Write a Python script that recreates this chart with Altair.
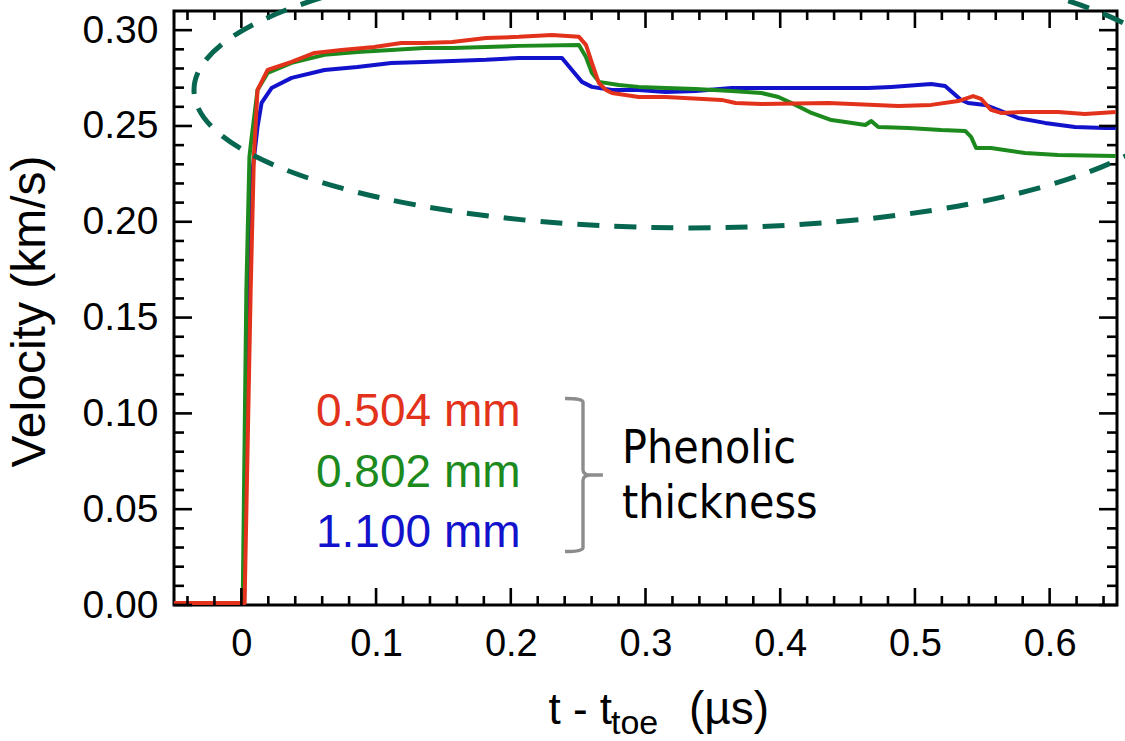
import altair as alt
import pandas as pd

# ---- data: time (us) and velocity (km/s) ----
t_504 = [-0.050, 0.0024, 0.0069, 0.0093, 0.010, 0.012, 0.0195, 0.0373, 0.0543, 0.0743,
         0.0987, 0.1187, 0.1358, 0.1565, 0.1817, 0.2061, 0.2306, 0.2506, 0.2558, 0.2602,
         0.2654, 0.2706, 0.2751, 0.2950, 0.3150, 0.3565, 0.3668, 0.3861, 0.4358, 0.4876,
         0.5121, 0.5321, 0.5432, 0.5491, 0.5565, 0.5639, 0.5817, 0.6062, 0.6261, 0.6491]
v_504 = [0.001, 0.001, 0.164, 0.234, 0.2427, 0.2688, 0.2792, 0.2834, 0.2881, 0.2897,
         0.2912, 0.2933, 0.2933, 0.2938, 0.2959, 0.2965, 0.2975, 0.2965, 0.2923, 0.2829,
         0.2724, 0.2688, 0.2672, 0.2651, 0.2651, 0.2636, 0.2620, 0.2615, 0.2620, 0.2604,
         0.2610, 0.2630, 0.2656, 0.2641, 0.2584, 0.2568, 0.2573, 0.2573, 0.2563, 0.2573]

t_802 = [-0.050, 0.001, 0.0037, 0.006, 0.0074, 0.012, 0.0195, 0.0373, 0.0617, 0.0861,
         0.1113, 0.1358, 0.1565, 0.1817, 0.2061, 0.2506, 0.2558, 0.2602, 0.2654, 0.2802,
         0.2950, 0.3150, 0.3373, 0.3639, 0.3861, 0.3987, 0.4113, 0.4232, 0.4380, 0.4484,
         0.4632, 0.4676, 0.4728, 0.4950, 0.5195, 0.5373, 0.5417, 0.5454, 0.5565, 0.5817,
         0.6062, 0.6491]
v_802 = [0.001, 0.001, 0.164, 0.234, 0.2427, 0.2688, 0.2777, 0.2829, 0.2871, 0.2886,
         0.2897, 0.2907, 0.2907, 0.2912, 0.2918, 0.2923, 0.2860, 0.2777, 0.2730, 0.2714,
         0.2704, 0.2698, 0.2693, 0.2683, 0.2672, 0.2651, 0.2610, 0.2568, 0.2531, 0.2521,
         0.2505, 0.2526, 0.2495, 0.2490, 0.2479, 0.2474, 0.2443, 0.2385, 0.2385, 0.2359,
         0.2349, 0.2343]

t_1100 = [-0.050, 0.002, 0.005, 0.008, 0.012, 0.015, 0.0224, 0.0373, 0.0617, 0.0861,
          0.1113, 0.1358, 0.1565, 0.1817, 0.2061, 0.2380, 0.2454, 0.2528, 0.2602, 0.2751,
          0.2950, 0.3150, 0.3373, 0.3639, 0.4135, 0.4654, 0.4824, 0.5121, 0.5224, 0.5343,
          0.5395, 0.5521, 0.5617, 0.5765, 0.5965, 0.6187, 0.6410, 0.6491]
v_1100 = [0.001, 0.001, 0.160, 0.225, 0.2495, 0.2620, 0.2698, 0.2751, 0.2792, 0.2808,
          0.2829, 0.2834, 0.2839, 0.2845, 0.2855, 0.2855, 0.2792, 0.2730, 0.2704, 0.2688,
          0.2688, 0.2677, 0.2683, 0.2698, 0.2698, 0.2698, 0.2704, 0.2719, 0.2709, 0.2636,
          0.2620, 0.2610, 0.2584, 0.2542, 0.2516, 0.2495, 0.2490, 0.2490]

series_names = ["1.100 mm", "0.802 mm", "0.504 mm"]   # drawing order (red on top)
series_colors = ["#1212cc", "#1c8a1c", "#e3321b"]

x_major = [0.0, 0.1, 0.2, 0.3, 0.4, 0.5, 0.6]
x_minor = [-0.04, -0.02, 0.02, 0.04, 0.06, 0.08, 0.12, 0.14, 0.16, 0.18, 0.22, 0.24,
           0.26, 0.28, 0.32, 0.34, 0.36, 0.38, 0.42, 0.44, 0.46, 0.48, 0.52, 0.54, 0.56,
           0.58, 0.62, 0.64]
y_major = [0.00, 0.05, 0.10, 0.15, 0.20, 0.25, 0.30]
y_minor = [0.01, 0.02, 0.03, 0.04, 0.06, 0.07, 0.08, 0.09, 0.11, 0.12, 0.13, 0.14,
           0.16, 0.17, 0.18, 0.19, 0.21, 0.22, 0.23, 0.24, 0.26, 0.27, 0.28, 0.29]

# ---- tables ----
rows = []
for name, ts, vs in [("1.100 mm", t_1100, v_1100), ("0.802 mm", t_802, v_802),
                     ("0.504 mm", t_504, v_504)]:
    for i, (t, v) in enumerate(zip(ts, vs)):
        rows.append({"t": t, "v": v, "series": name, "i": i})
df = pd.DataFrame(rows)
dummy = pd.DataFrame({"k": [0]})

W, H = 943, 594
FONT = "Liberation Sans, Arial, sans-serif"
xscale = alt.Scale(domain=[-0.05, 0.65], nice=False, zero=False)
yscale = alt.Scale(domain=[0.0, 0.31], nice=False, zero=False)

x_axis = alt.Axis(
    values=x_major, ticks=False, domain=False, grid=False, title=None,
    labelFont=FONT, labelFontSize=38, labelColor="black", labelPadding=20,
    labelFlush=False, labelOverlap=False,
    labelExpr="datum.value == 0 ? '0' : format(datum.value, '.1f')")
y_axis = alt.Axis(
    values=y_major, ticks=False, domain=False, grid=False, format=".2f",
    labelFont=FONT, labelFontSize=39, labelColor="black", labelPadding=16,
    labelFlush=False, labelOverlap=False,
    title="Velocity (km/s)", titleFont=FONT, titleFontSize=48,
    titleFontWeight="normal", titleColor="black", titleX=-130, titleY=300,
    titleBaseline="alphabetic", titleAlign="center", titleAngle=270)

X = alt.X("t:Q", scale=xscale, axis=x_axis)
Y = alt.Y("v:Q", scale=yscale, axis=y_axis)

layers = []

# data lines
for name, color in zip(series_names, series_colors):
    layers.append(
        alt.Chart(df).transform_filter(alt.datum.series == name)
        .mark_line(color=color, strokeWidth=4, strokeJoin="round", clip=True)
        .encode(x=X, y=Y, order="i:Q")
    )

# inward ticks
def xticks(vals, length):
    d = pd.DataFrame({"t": vals})
    bot = alt.Chart(d).mark_rule(color="black", strokeWidth=2.6).encode(
        x=X, y=alt.value(H), y2=alt.value(H - length))
    top = alt.Chart(d).mark_rule(color="black", strokeWidth=2.6).encode(
        x=X, y=alt.value(0), y2=alt.value(length))
    return [bot, top]

def yticks(vals, length):
    d = pd.DataFrame({"v": vals})
    left = alt.Chart(d).mark_rule(color="black", strokeWidth=2.6).encode(
        y=Y, x=alt.value(0), x2=alt.value(length))
    right = alt.Chart(d).mark_rule(color="black", strokeWidth=2.6).encode(
        y=Y, x=alt.value(W), x2=alt.value(W - length))
    return [left, right]

layers += xticks(x_major, 17) + xticks(x_minor, 9) + yticks(y_major, 18) + yticks(y_minor, 10)

# legend text
legend_labels = ["0.504 mm", "0.802 mm", "1.100 mm"]
legend_colors = ["#e3321b", "#1c8a1c", "#1212cc"]
for k, (lab, col) in enumerate(zip(legend_labels, legend_colors)):
    layers.append(alt.Chart(dummy).mark_text(
        text=lab, font=FONT, fontSize=46, color=col, align="left", baseline="alphabetic"
    ).encode(x=alt.value(142), y=alt.value(415 + 60.5 * k)))

# bracket
bracket_path = ("M -0.235 -1 Q 0 -1 0 -0.95 L 0 -0.07 Q 0 0 0.1 0 L 0.26 0 "
                "M 0.1 0 Q 0 0 0 0.07 L 0 0.95 Q 0 1 -0.235 1")
layers.append(alt.Chart(dummy).mark_point(
    shape=bracket_path, size=153 ** 2, filled=False, color="#8c8c8c",
    strokeWidth=3.4, opacity=1
).encode(x=alt.value(409), y=alt.value(464)))

PFONT = "DejaVu Sans Condensed, DejaVu Sans, sans-serif"
for txt, yy in [("Phenolic", 452), ("thickness", 507)]:
    layers.append(alt.Chart(dummy).mark_text(
        text=txt, font=PFONT, fontSize=46, color="black", align="left", baseline="alphabetic"
    ).encode(x=alt.value(448), y=alt.value(yy)))

# x-axis title with subscript
layers.append(alt.Chart(dummy).mark_text(
    text="t - t", font=FONT, fontSize=44, color="black", align="right", baseline="alphabetic"
).encode(x=alt.value(438), y=alt.value(713)))
layers.append(alt.Chart(dummy).mark_text(
    text="toe", font=FONT, fontSize=34, color="black", align="left", baseline="alphabetic"
).encode(x=alt.value(437), y=alt.value(723)))
layers.append(alt.Chart(dummy).mark_text(
    text="(\u00b5s)", font=FONT, fontSize=46, color="black", align="left", baseline="alphabetic"
).encode(x=alt.value(515), y=alt.value(713)))

# dashed ellipse highlight
ry = 0.278
c = 0.5523
ellipse_path = (f"M 1 0 C 1 {c*ry:.4f} {c:.4f} {ry} 0 {ry} "
                f"C -{c:.4f} {ry} -1 {c*ry:.4f} -1 0 "
                f"C -1 -{c*ry:.4f} -{c:.4f} -{ry} 0 -{ry} "
                f"C {c:.4f} -{ry} 1 -{c*ry:.4f} 1 0 Z")
layers.append(alt.Chart(dummy).mark_point(
    shape=ellipse_path, size=992 ** 2, filled=False, color="#07664f",
    strokeWidth=5, strokeDash=[22, 15], opacity=1
).encode(x=alt.value(516), y=alt.value(79)))

chart = alt.layer(*layers).properties(
    width=W, height=H,
    autosize=alt.AutoSizeParams(type="none"),
    padding={"left": 174, "top": 11, "right": 8, "bottom": 136},
    background="white",
).configure_view(stroke="black", strokeWidth=3)

chart.save("out.html", embed_options={"renderer": "svg", "actions": False})
